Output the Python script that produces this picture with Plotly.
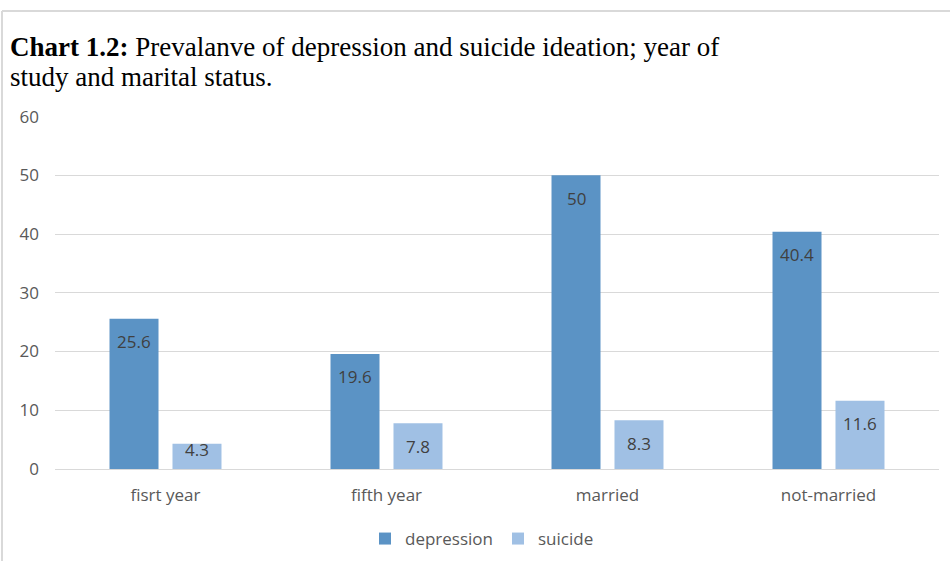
import plotly.graph_objects as go

categories = ["fisrt year", "fifth year", "married", "not-married"]
depression = [25.6, 19.6, 50, 40.4]
suicide = [4.3, 7.8, 8.3, 11.6]
y_ticks = [0, 10, 20, 30, 40, 50, 60]

W, H = 950, 561
L, R, T, B = 55, 11, 116, 92
pw, ph = W - L - R, H - T - B
Y_MAX = 60.1
ppu = ph / Y_MAX  # pixels per unit

def px_x(x):
    return (x - L) / pw

def px_y(y):
    return (H - B - y) / ph

SANS = "Open Sans, Lato, sans-serif"
label_font = dict(family=SANS, size=17, color="#404040")

fig = go.Figure()
fig.add_trace(go.Bar(
    name="depression", x=categories, y=depression,
    marker=dict(color="#5B93C5", line=dict(width=0)),
))
fig.add_trace(go.Bar(
    name="suicide", x=categories, y=suicide,
    marker=dict(color="#A0C0E4", line=dict(width=0)),
))

# data labels: inside end of each bar (Excel style), clamped above the baseline
annotations = []
offset_px = 31.5
for series, shift in ((depression, -offset_px), (suicide, offset_px)):
    for cat, v in zip(categories, series):
        y_lab = max(v - 23 / ppu, 20 / ppu)
        annotations.append(dict(
            x=cat, y=y_lab, xref="x", yref="y", xshift=shift,
            text=f"{v:g}", showarrow=False, xanchor="center", yanchor="middle",
            font=label_font,
        ))

title_font = dict(family="Liberation Serif, Times New Roman, serif", size=27, color="#000000")
annotations.append(dict(
    xref="paper", yref="paper", x=px_x(8), y=px_y(30), xanchor="left", yanchor="top",
    showarrow=False, align="left",
    text="<b>Chart 1.2:</b> Prevalanve of depression and suicide ideation; year of",
    font=title_font,
))
annotations.append(dict(
    xref="paper", yref="paper", x=px_x(8), y=px_y(60), xanchor="left", yanchor="top",
    showarrow=False, align="left",
    text="study and marital status.",
    font=title_font,
))

fig.update_layout(
    width=W, height=H,
    margin=dict(l=L, r=R, t=T, b=B, pad=0, autoexpand=False),
    paper_bgcolor="white", plot_bgcolor="white",
    barmode="group", bargap=0.43, bargroupgap=0.222,
    font=dict(family=SANS, size=17, color="#595959"),
    xaxis=dict(showgrid=False, showline=False, ticks="", ticklabelstandoff=14, automargin=False,
               tickfont=dict(size=17, color="#595959")),
    yaxis=dict(range=[0, Y_MAX], tickvals=y_ticks, showgrid=True, gridcolor="#D9D9D9",
               gridwidth=1, zeroline=True, zerolinecolor="#D9D9D9", zerolinewidth=1,
               showline=False, ticks="", ticklabelstandoff=15, automargin=False,
               tickfont=dict(size=17, color="#595959")),
    showlegend=True,
    legend=dict(orientation="h", x=px_x(482), xanchor="center", y=px_y(521), yanchor="top",
                font=dict(size=17, color="#595959"), itemwidth=30, traceorder="normal"),
    annotations=annotations,
    shapes=[
        dict(type="line", xref="paper", yref="paper", x0=px_x(2), x1=px_x(950), y0=px_y(11), y1=px_y(11),
             line=dict(color="#D9D9D9", width=2)),
        dict(type="line", xref="paper", yref="paper", x0=px_x(2), x1=px_x(2), y0=px_y(11), y1=px_y(561),
             line=dict(color="#D9D9D9", width=2)),
    ],
)

fig.write_html("out.html")
